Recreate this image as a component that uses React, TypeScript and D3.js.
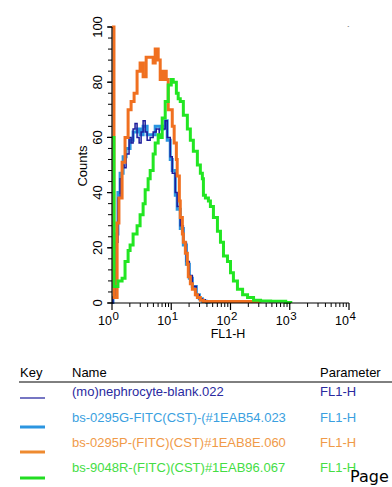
import * as d3 from "d3";

// FL1-H values (bin starts) and counts
const blankFl1 = [1.0, 1.04, 1.17, 1.26, 1.37, 1.48, 1.6, 1.73, 1.94, 2.1, 2.27, 2.45, 2.65, 2.87, 3.1, 3.35, 3.63, 3.92, 4.41, 4.95, 5.57, 6.26, 7.04, 7.91, 8.55, 9.62, 10.4, 11.7, 12.6, 14.2, 16.0, 18.0, 20.2, 22.7, 26.5, 29.8, 33.5, 37.7, 45.8];
const blankCounts = [0, 2, 22, 38, 45, 50, 49, 54, 60, 58, 63, 65, 60, 58, 62, 66, 62, 59, 60, 62, 63, 61, 63, 66, 60, 53, 47, 40, 35, 28, 22, 15, 10, 6, 3, 1.5, 1.2, 0.3, 0];

const g0295Fl1 = [1.0, 1.04, 1.17, 1.26, 1.37, 1.54, 1.73, 2.02, 2.27, 2.65, 2.98, 3.35, 3.92, 4.41, 5.36, 6.51, 7.32, 7.91, 8.55, 9.62, 10.4, 11.7, 12.6, 14.2, 16.0, 18.0, 20.2, 22.7, 26.5, 29.8, 33.5, 39.2, 45.8];
const g0295Counts = [0, 2, 25, 40, 47, 53, 56, 59, 62, 63, 61, 64, 61, 61, 64, 63, 64, 66, 59, 52, 48, 39, 34, 27, 21, 14, 9, 6, 3, 1.5, 0.6, 0.3, 0];

const p0295Fl1 = [1.0, 1.04, 1.08, 1.22, 1.31, 1.48, 1.66, 1.87, 2.1, 2.36, 2.65, 2.98, 3.35, 3.77, 4.41, 4.95, 5.36, 6.02, 6.51, 7.32, 8.23, 8.89, 10.4, 11.2, 12.2, 12.6, 13.7, 14.2, 15.4, 16.0, 17.3, 18.7, 19.4, 21.0, 22.7, 25.5, 27.6, 31.0, 34.9, 322];
const p0295Counts = [100, 100, 2, 29, 38, 51, 60, 70, 73, 76, 84, 87, 82, 89, 89, 87, 92, 88, 81, 84, 81, 70, 64, 58, 52, 46, 37, 31, 25, 22, 18, 14, 9.5, 7, 5, 3, 2, 1, 0.5, 0.3];

const r9048Fl1 = [1.0, 1.04, 1.08, 1.26, 1.48, 1.66, 1.87, 2.02, 2.27, 2.65, 2.98, 3.35, 3.63, 4.07, 4.41, 4.95, 5.36, 6.02, 6.51, 7.04, 7.91, 8.89, 10.0, 10.8, 12.2, 13.1, 14.2, 16.0, 18.7, 21.0, 23.6, 27.6, 31.0, 33.5, 34.9, 37.7, 42.4, 45.8, 51.5, 60.2, 67.7, 76.1, 88.9, 100, 112, 131, 160, 194, 245, 322, 476, 703, 855, 1040];
const r9048Counts = [60, 60, 6, 8, 9, 15, 19, 21, 25, 28, 32, 36, 41, 45, 48, 54, 58, 61, 60, 67, 73, 79, 81, 80, 76, 74, 73, 68, 63, 59, 55, 50, 47, 45, 39, 38, 37, 35, 31, 26, 22, 17, 15, 11, 8, 5, 3, 2, 1, 0.7, 0.6, 0.6, 0.2, 0];

const xTickValues = [1, 10, 100, 1000, 10000];
const yTickValues = [0, 20, 40, 60, 80, 100];

const seriesNames = [
  "(mo)nephrocyte-blank.022",
  "bs-0295G-FITC(CST)-(#1EAB54.023",
  "bs-0295P-(FITC)(CST)#1EAB8E.060",
  "bs-9048R-(FITC)(CST)#1EAB96.067",
];
const seriesParams = ["FL1-H", "FL1-H", "FL1-H", "FL1-H"];
const lineColors = ["#1c1c9c", "#2b95e0", "#f07020", "#22e622"];
const keyColors = ["#1c1c9c", "#2b95e0", "#ee8a30", "#22dd22"];
const textColors = ["#2a2aa0", "#3a9fe0", "#f09a48", "#44dd44"];
const lineWidths = [1.5, 3, 3, 3];

const font = "'Liberation Sans', Arial, Helvetica, sans-serif";

export default function App() {
  const width = 392;
  const height = 487;

  const x = d3.scaleLog().domain([1, 10000]).range([112, 349]);
  const y = d3.scaleLinear().domain([0, 100]).range([303, 27]);

  const series = [
    { xs: g0295Fl1, ys: g0295Counts, i: 1 },
    { xs: blankFl1, ys: blankCounts, i: 0 },
    { xs: p0295Fl1, ys: p0295Counts, i: 2 },
    { xs: r9048Fl1, ys: r9048Counts, i: 3 },
  ];

  const line = d3
    .line<[number, number]>()
    .x((d) => x(d[0]))
    .y((d) => y(d[1]))
    .curve(d3.curveStepAfter);

  const minorX: number[] = [];
  for (let e = 0; e < 4; e++) {
    for (let m = 2; m <= 9; m++) minorX.push(m * Math.pow(10, e));
  }
  const minorY = d3.range(0, 101, 4);

  const rowY = [396, 422, 447, 472];
  const keyY = [398, 427, 452, 478];

  return (
    <svg
      width={width}
      height={height}
      viewBox={`0 0 ${width} ${height}`}
      style={{ position: "absolute", left: 0, top: 0, background: "#fff" }}
      fontFamily={font}
    >
      <defs>
        <clipPath id="plot">
          <rect x={112} y={25} width={238} height={279} />
        </clipPath>
      </defs>

      {/* histograms */}
      <g clipPath="url(#plot)">
        {series.map((s) => (
          <path
            key={s.i}
            d={line(s.xs.map((v, k) => [v, s.ys[k]] as [number, number])) || ""}
            fill="none"
            stroke={lineColors[s.i]}
            strokeWidth={lineWidths[s.i]}
          />
        ))}
      </g>

      {/* y axis */}
      <line x1={112} x2={112} y1={y(100)} y2={y(0)} stroke="#000" strokeWidth={1.2} />
      {minorY.map((t) => (
        <line key={"my" + t} x1={108} x2={112} y1={y(t)} y2={y(t)} stroke="#000" strokeWidth={1} />
      ))}
      {yTickValues.map((t) => (
        <g key={"y" + t}>
          <line x1={107} x2={112} y1={y(t)} y2={y(t)} stroke="#000" strokeWidth={1.2} />
          <text
            transform={`translate(102,${y(t)}) rotate(-90)`}
            textAnchor="middle"
            fontSize={13}
          >
            {t}
          </text>
        </g>
      ))}
      <text transform={`translate(87,166) rotate(-90)`} textAnchor="middle" fontSize={13}>
        Counts
      </text>

      {/* x axis */}
      <line x1={112} x2={349} y1={303} y2={303} stroke="#000" strokeWidth={1.2} />
      {minorX.map((t) => (
        <line key={"mx" + t} x1={x(t)} x2={x(t)} y1={303} y2={307} stroke="#000" strokeWidth={1} />
      ))}
      {xTickValues.map((t, k) => (
        <g key={"x" + t}>
          <line x1={x(t)} x2={x(t)} y1={303} y2={310} stroke="#000" strokeWidth={1.2} />
          <text x={x(t)} y={325} textAnchor="end" fontSize={12.5}>
            10
          </text>
          <text x={x(t) + 0.5} y={320} fontSize={11.5}>
            {k}
          </text>
        </g>
      ))}
      <text x={228} y={338} textAnchor="middle" fontSize={12.5}>
        FL1-H
      </text>
      <text x={347} y={31} fontSize={8} fill="#000">
        `
      </text>

      {/* key table */}
      <text x={20} y={377} fontSize={13}>Key</text>
      <text x={72} y={377} fontSize={13}>Name</text>
      <text x={320} y={377} fontSize={13}>Parameter</text>
      <line x1={19} x2={392} y1={382} y2={382} stroke="#000" strokeWidth={1} />
      {seriesNames.map((n, i) => (
        <g key={n}>
          <line
            x1={20}
            x2={45}
            y1={keyY[i]}
            y2={keyY[i]}
            stroke={keyColors[i]}
            strokeWidth={i === 0 ? 1.2 : 3}
          />
          <text x={72} y={rowY[i]} fontSize={13} fill={textColors[i]}>
            {n}
          </text>
          <text x={320} y={rowY[i]} fontSize={13} fill={textColors[i]}>
            {seriesParams[i]}
          </text>
        </g>
      ))}
      <text x={350} y={482} fontSize={16} fontFamily="'DejaVu Sans', sans-serif" fill="#000">
        Page
      </text>
    </svg>
  );
}
